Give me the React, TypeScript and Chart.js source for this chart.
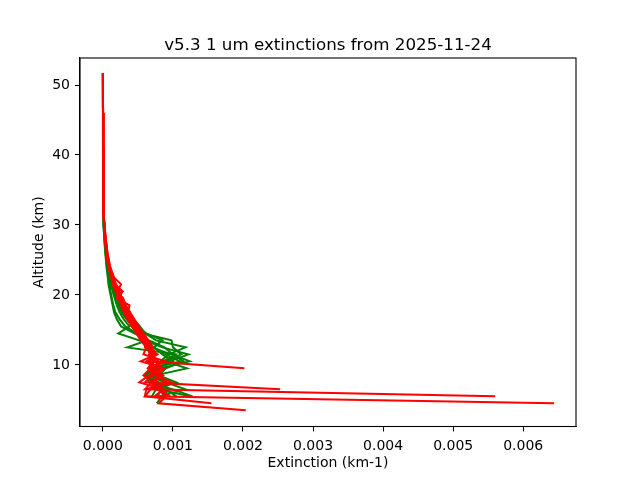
import React, { useEffect, useRef } from "react";
import { Chart, registerables } from "chart.js";

Chart.register(...registerables);

const TITLE = "v5.3 1 um extinctions from 2025-11-24";
const X_LABEL = "Extinction (km-1)";
const Y_LABEL = "Altitude (km)";
const X_TICKS = [0, 0.001, 0.002, 0.003, 0.004, 0.005, 0.006];
const Y_TICKS = [10, 20, 30, 40, 50];

// altitude levels (km), shared by all profiles
const ALTITUDES = [
  51.7, 46, 41, 36, 32, 30, 28, 26, 24,
  22.5, 21.5, 20.5, 19.5, 18.5, 17.5, 16.5, 15.5, 14.5, 13.5,
  12.5, 11.5, 10.5, 9.5, 8.5, 7.5, 6.5, 5.5, 4.5, 3.5,
];

// green profiles (extinction km-1), null = no data
const GREEN_1 = [0.000001, 0.000002, 0.000003, 0.000005, 0.00001, 0.000018, 0.00003, 0.00005, 0.00008,
  0.00011, 0.00013, 0.00015, 0.00018, 0.00022, 0.00027, 0.00034, 0.00043, 0.00052, 0.0006,
  0.00085, 0.00122, 0.00095, 0.00076, 0.00068, 0.00072, 0.00084, 0.00078, null, null];
const GREEN_2 = [0.000001, 0.000002, 0.000003, 0.000004, 0.000009, 0.000016, 0.000028, 0.000046, 0.000075,
  0.0001, 0.00012, 0.00014, 0.00017, 0.0002, 0.00024, 0.0003, 0.00038, 0.00022, 0.00052,
  0.0007, 0.00098, 0.00124, 0.00082, 0.0007, 0.0009, 0.00118, 0.0008, null, null];
const GREEN_3 = [0.000002, 0.000002, 0.000003, 0.000006, 0.000011, 0.00002, 0.000033, 0.000055, 0.000085,
  0.00012, 0.00014, 0.00017, 0.00021, 0.00026, 0.00032, 0.0004, 0.0005, 0.00059, 0.00063,
  0.00035, 0.00104, 0.00086, 0.0007, 0.00062, 0.00066, 0.001, 0.00128, null, null];
const GREEN_4 = [0.000001, 0.000001, 0.000002, 0.000003, 0.000006, 0.000012, 0.00002, 0.000034, 0.000052,
  0.00007, 0.00008, 0.0001, 0.00012, 0.00014, 0.00016, 0.0002, 0.00026, 0.00045, 0.00066,
  0.00088, 0.001, 0.00115, 0.0009, 0.0008, 0.00105, 0.00076, 0.0007, null, null];
const GREEN_5 = [0.000002, 0.000003, 0.000004, 0.000006, 0.000012, 0.000021, 0.000036, 0.00006, 0.00009,
  0.00013, 0.00016, 0.00019, 0.00023, 0.00028, 0.00035, 0.00044, 0.00053, 0.0006, 0.00076,
  0.00118, 0.00094, 0.00082, 0.00068, 0.0006, 0.0008, 0.00095, 0.00084, 0.00077, null];
const GREEN_6 = [0.000001, 0.000002, 0.000003, 0.000005, 0.00001, 0.000018, 0.00003, 0.00005, 0.00008,
  0.00011, 0.00013, 0.00016, 0.0002, 0.00024, 0.00029, 0.00036, 0.00046, 0.00057, 0.00098,
  0.001, 0.00112, 0.0009, 0.0012, 0.00075, 0.00068, 0.0009, 0.00105, null, null];
const GREEN_7 = [0.000001, 0.000002, 0.000002, 0.000003, 0.000007, 0.000013, 0.000022, 0.000038, 0.00006,
  0.00008, 0.0001, 0.00011, 0.00013, 0.00015, 0.00018, 0.00024, 0.00032, 0.00048, 0.00064,
  0.00072, 0.0009, 0.0011, 0.00072, 0.00065, 0.00088, 0.00078, 0.00125, null, null];
const GREEN_8 = [0.000002, 0.000002, 0.000003, 0.000005, 0.000011, 0.00002, 0.000034, 0.000056, 0.000088,
  0.00012, 0.00015, 0.00018, 0.00022, 0.00025, 0.00031, 0.00039, 0.00049, 0.00062, 0.00085,
  0.00073, 0.00085, 0.001, 0.00078, 0.00062, 0.0007, 0.00082, 0.0009, 0.0008, null];

// red profiles
const RED_1 = [0.000002, 0.000003, 0.000004, 0.000006, 0.000012, 0.000021, 0.000036, 0.00006, 0.00009,
  0.00014, 0.00017, 0.00022, 0.00026, 0.0003, 0.00034, 0.0004, 0.00044, 0.0005, 0.00058,
  0.00064, 0.0007, 0.00068, 0.00202, null, null, null, null, null, null];
const RED_2 = [0.000001, 0.000002, 0.000003, 0.000005, 0.000011, 0.00002, 0.000034, 0.000056, 0.000088,
  0.00013, 0.00016, 0.0002, 0.00025, 0.00028, 0.00033, 0.0004, 0.00048, 0.00056, 0.00062,
  0.00068, 0.00072, 0.00065, 0.0008, 0.0007, 0.0006, 0.00253, null, null, null];
const RED_3 = [0.000002, 0.000003, 0.000004, 0.000006, 0.000013, 0.000022, 0.000038, 0.000062, 0.000095,
  0.00015, 0.00018, 0.00028, 0.0002, 0.00038, 0.00036, 0.00044, 0.0005, 0.00056, 0.0006,
  0.00066, 0.0007, 0.00074, 0.00066, 0.00082, 0.0007, 0.0006, 0.0056, null, null];
const RED_4 = [0.000001, 0.000002, 0.000003, 0.000005, 0.00001, 0.000018, 0.00003, 0.00005, 0.00008,
  0.00012, 0.00015, 0.00028, 0.00022, 0.00027, 0.00032, 0.00038, 0.00045, 0.00052, 0.00058,
  0.00062, 0.00068, 0.00075, 0.00084, 0.0007, 0.00078, 0.00068, 0.0006, 0.00644, null];
const RED_5 = [0.000002, 0.000003, 0.000004, 0.000006, 0.000012, 0.000021, 0.000036, 0.00006, 0.00009,
  0.00014, 0.00017, 0.00021, 0.00024, 0.00029, 0.00035, 0.00042, 0.00047, 0.00054, 0.00064,
  0.00072, 0.00066, 0.0008, 0.00072, 0.00086, 0.00068, 0.00078, 0.0009, 0.0008, 0.00204];
const RED_6 = [0.000001, 0.000002, 0.000003, 0.000005, 0.000011, 0.000019, 0.000032, 0.000053, 0.000085,
  0.00013, 0.00016, 0.00019, 0.00023, 0.00027, 0.00031, 0.00036, 0.00043, 0.0005, 0.00057,
  0.00063, 0.00068, 0.00072, 0.00064, 0.00076, 0.00092, 0.00062, 0.0006, 0.00155, null];
const RED_7 = [0.000002, 0.000003, 0.000004, 0.000007, 0.000013, 0.000023, 0.00004, 0.000065, 0.0001,
  0.00015, 0.00019, 0.00024, 0.00027, 0.00031, 0.00036, 0.00042, 0.00049, 0.00055, 0.00061,
  0.0006, 0.00078, 0.00062, 0.00075, 0.00066, 0.00052, 0.00086, 0.00074, null, null];
const RED_8 = [0.000001, 0.000002, 0.000003, 0.000005, 0.00001, 0.000017, 0.000029, 0.000048, 0.000078,
  0.00012, 0.00014, 0.00018, 0.00022, 0.00026, 0.0003, 0.00035, 0.00041, 0.00048, 0.00054,
  0.00062, 0.00058, 0.0009, 0.00068, 0.00058, 0.00072, 0.0008, 0.00096, null, null];
const RED_9 = [0.000002, 0.000003, 0.000004, 0.000007, 0.000014, 0.000024, 0.000042, 0.000068, 0.000105,
  0.00016, 0.00026, 0.0002, 0.00029, 0.00033, 0.00039, 0.00045, 0.00051, 0.00058, 0.00065,
  0.0007, 0.00076, 0.00054, 0.00088, 0.00076, 0.00098, 0.0007, null, null, null];

const GREEN_PROFILES = [GREEN_1, GREEN_2, GREEN_3, GREEN_4, GREEN_5, GREEN_6, GREEN_7, GREEN_8];
const RED_PROFILES = [RED_1, RED_2, RED_3, RED_4, RED_5, RED_6, RED_7, RED_8, RED_9];

const FONT = "'DejaVu Sans', sans-serif";

function toPoints(values: (number | null)[]) {
  const pts: { x: number; y: number }[] = [];
  values.forEach((v, i) => {
    if (v !== null) pts.push({ x: v, y: ALTITUDES[i] });
  });
  return pts;
}

const framePlugin = {
  id: "frame",
  afterDraw(chart: any) {
    const { ctx, chartArea } = chart;
    ctx.save();
    ctx.strokeStyle = "#000";
    ctx.lineWidth = 1.1;
    ctx.strokeRect(chartArea.left, chartArea.top, chartArea.right - chartArea.left, chartArea.bottom - chartArea.top);
    ctx.fillStyle = "#000";
    ctx.font = `16.7px ${FONT}`;
    ctx.textAlign = "center";
    ctx.textBaseline = "alphabetic";
    ctx.fillText(TITLE, (chartArea.left + chartArea.right) / 2, 50);
    ctx.restore();
  },
};

export default function App() {
  const ref = useRef<HTMLCanvasElement>(null);
  useEffect(() => {
    document.body.style.margin = "0";
    const datasets: any[] = [];
    GREEN_PROFILES.forEach((p, i) =>
      datasets.push({
        label: `green ${i + 1}`,
        data: toPoints(p),
        borderColor: "#008000",
        borderWidth: 2,
        showLine: true,
        pointRadius: 0,
        fill: false,
        order: 2,
      })
    );
    RED_PROFILES.forEach((p, i) =>
      datasets.push({
        label: `red ${i + 1}`,
        data: toPoints(p),
        borderColor: "#ff0000",
        borderWidth: 2,
        showLine: true,
        pointRadius: 0,
        fill: false,
        order: 1,
      })
    );
    const chart = new Chart(ref.current!, {
      type: "scatter",
      data: { datasets },
      plugins: [framePlugin],
      options: {
        animation: false,
        responsive: false,
        devicePixelRatio: 1,
        layout: { padding: { left: 0, top: 58, right: 64, bottom: 0 } },
        plugins: { legend: { display: false }, tooltip: { enabled: false }, title: { display: false } },
        scales: {
          x: {
            type: "linear",
            min: -0.000326,
            max: 0.006753,
            afterFit: (s: any) => { s.height = 53.5; },
            afterBuildTicks: (s: any) => { s.ticks = X_TICKS.map((v) => ({ value: v })); },
            ticks: {
              color: "#000",
              font: { family: FONT, size: 14 },
              padding: 6,
              maxRotation: 0,
              callback: (v: any) => Number(v).toFixed(3),
            },
            grid: { display: true, drawOnChartArea: false, drawTicks: true, tickLength: 5, color: "#000", tickWidth: 1.1 },
            border: { display: true, color: "#000", width: 1.1 },
            title: { display: true, text: X_LABEL, color: "#000", font: { family: FONT, size: 14 }, padding: { top: 0, bottom: 8.6 } },
          },
          y: {
            type: "linear",
            min: 1.19,
            max: 53.86,
            afterFit: (s: any) => { s.width = 80; },
            afterBuildTicks: (s: any) => { s.ticks = Y_TICKS.map((v) => ({ value: v })); },
            ticks: {
              color: "#000",
              font: { family: FONT, size: 14 },
              padding: 5,
              callback: (v: any) => String(v),
            },
            grid: { display: true, drawOnChartArea: false, drawTicks: true, tickLength: 5, color: "#000", tickWidth: 1.1 },
            border: { display: true, color: "#000", width: 1.1 },
            title: { display: true, text: Y_LABEL, color: "#000", font: { family: FONT, size: 14 }, padding: { top: 30.5, bottom: 0 } },
          },
        },
      },
    });
    return () => chart.destroy();
  }, []);
  return (
    <div style={{ position: "fixed", left: 0, top: 0, width: 640, height: 480, background: "#fff" }}>
      <canvas ref={ref} width={640} height={480} style={{ width: 640, height: 480 }} />
    </div>
  );
}
